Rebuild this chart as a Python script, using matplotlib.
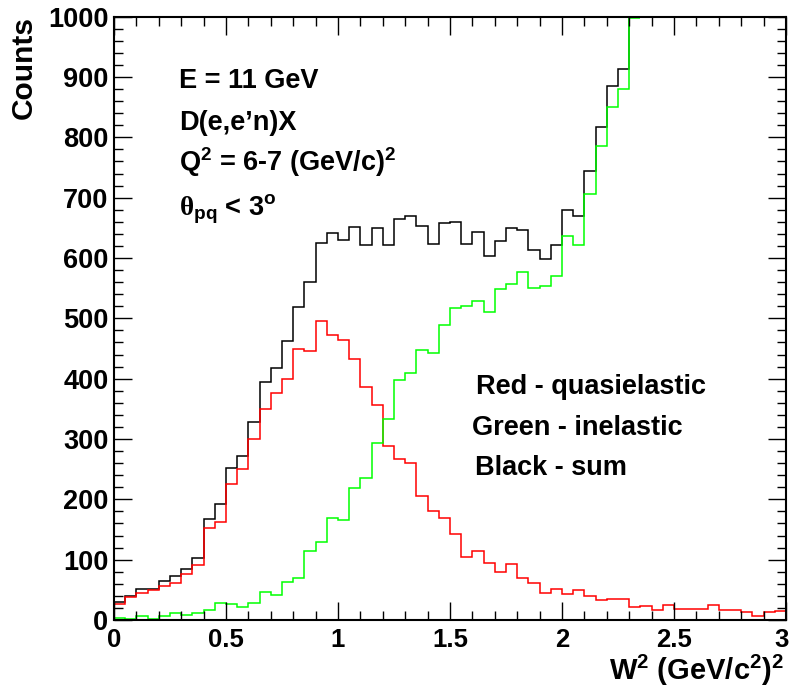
import matplotlib
matplotlib.use("Agg")
import matplotlib.pyplot as plt
import matplotlib.transforms as mtransforms
import numpy as np
from matplotlib.ticker import MultipleLocator, FixedLocator, FixedFormatter

# ---------------- data ----------------
w2_min, w2_max, n_bins = 0.0, 3.0, 60

red_counts = [26, 38, 44, 50, 57, 62, 76, 91, 152, 163,
              225, 250, 300, 349, 377, 400, 449, 446, 496, 473,
              464, 433, 386, 356, 289, 267, 260, 206, 181, 169,
              143, 104, 114, 94, 79, 92, 70, 62, 45, 51,
              43, 49, 39, 33, 35, 34, 21, 23, 17, 25,
              19, 19, 19, 25, 16, 17, 13, 7, 13, 15]

# inelastic: bins above W^2 = 2.35 are off scale (> 1000) in the reference
green_counts = [4, 2, 7, 2, 7, 11, 8, 11, 16, 29,
                27, 22, 29, 46, 41, 63, 70, 114, 129, 169,
                166, 218, 235, 293, 333, 398, 410, 447, 442, 489,
                517, 520, 529, 510, 549, 557, 576, 551, 553, 571,
                636, 621, 706, 785, 850, 880, 998]

xtick_vals = [0, 0.5, 1, 1.5, 2, 2.5, 3]
xtick_labels = ["0", "0.5", "1", "1.5", "2", "2.5", "3"]
ytick_vals = [0, 100, 200, 300, 400, 500, 600, 700, 800, 900, 1000]

# ---------------- style ----------------
plt.rcParams["font.family"] = ["Liberation Sans", "DejaVu Sans"]
plt.rcParams["font.weight"] = "bold"
plt.rcParams["mathtext.fontset"] = "custom"
plt.rcParams["mathtext.rm"] = "Liberation Sans:bold"
plt.rcParams["mathtext.bf"] = "Liberation Sans:bold"
plt.rcParams["mathtext.it"] = "Liberation Sans:bold"
plt.rcParams["mathtext.sf"] = "Liberation Serif"
plt.rcParams["mathtext.default"] = "rm"

W, H = 791, 690
fig = plt.figure(figsize=(W / 100, H / 100), dpi=100)


def fx(px):
    return px / W


def fy(py):
    return 1 - py / H


ax_l, ax_r, ax_t, ax_b = 114, 786, 16.7, 620
ax = fig.add_axes([fx(ax_l), fy(ax_b), (ax_r - ax_l) / W, (ax_b - ax_t) / H])

edges = np.linspace(w2_min, w2_max, n_bins + 1)
red = np.array(red_counts, dtype=float)
green = np.array(green_counts, dtype=float)
ng = len(green)
black = red[:ng] + green

lw = 1.1
ax.stairs(black, edges[:ng + 1], color="black", lw=lw, baseline=None)
ax.stairs(red, edges, color="#ff0000", lw=lw, baseline=None)
ax.stairs(green, edges[:ng + 1], color="#00ff00", lw=lw, baseline=None)

ax.set_xlim(w2_min, w2_max)
ax.set_ylim(0, 1000)

ax.xaxis.set_major_locator(FixedLocator(xtick_vals))
ax.xaxis.set_major_formatter(FixedFormatter(xtick_labels))
ax.xaxis.set_minor_locator(MultipleLocator(0.1))
ax.yaxis.set_major_locator(FixedLocator(ytick_vals))
ax.yaxis.set_minor_locator(MultipleLocator(20))

ax.tick_params(which="both", direction="in", top=True, right=True, width=1.0)
ax.tick_params(which="major", length=13)
ax.tick_params(which="minor", length=6.5)
ax.tick_params(axis="x", labelsize=18.5, pad=6)
ax.tick_params(axis="y", labelsize=19.5, pad=4)
for lab in ax.get_xticklabels() + ax.get_yticklabels():
    lab.set_fontweight("bold")
for sp in ax.spines.values():
    sp.set_linewidth(1.5)

# nudge the last x tick label so it stays inside the canvas
last = ax.get_xticklabels()[-1]
last.set_transform(last.get_transform() +
                   mtransforms.ScaledTranslation(-0.04, 0, fig.dpi_scale_trans))

# axis titles
fig.text(fx(24), fy(16), "Counts", rotation=90, ha="center", va="top",
         fontsize=21.5, fontweight="bold")
fig.text(fx(784), fy(680), r"W$^{2}$ (GeV/c$^{2}$)$^{2}$", ha="right",
         va="baseline", fontsize=21, fontweight="bold")

# annotations
fs = 19.5
fig.text(fx(179), fy(88.5), "E = 11 GeV", ha="left", va="baseline",
         fontsize=fs, fontweight="bold")
fig.text(fx(179), fy(130.5), "D(e,e\u2019n)X", ha="left", va="baseline",
         fontsize=fs, fontweight="bold")
fig.text(fx(179), fy(171), r"Q$^{2}$ = 6-7 (GeV/c)$^{2}$", ha="left",
         va="baseline", fontsize=fs, fontweight="bold")
fig.text(fx(179), fy(216), r"$\mathsf{\theta}_{pq}$ < 3$^{o}$", ha="left",
         va="baseline", fontsize=fs, fontweight="bold")

fig.text(fx(476), fy(393.5), "Red - quasielastic", ha="left",
         va="baseline", fontsize=fs, fontweight="bold")
fig.text(fx(472), fy(435), "Green - inelastic", ha="left",
         va="baseline", fontsize=fs, fontweight="bold")
fig.text(fx(475), fy(475), "Black - sum", ha="left",
         va="baseline", fontsize=fs, fontweight="bold")

fig.savefig("out.png", dpi=100)
